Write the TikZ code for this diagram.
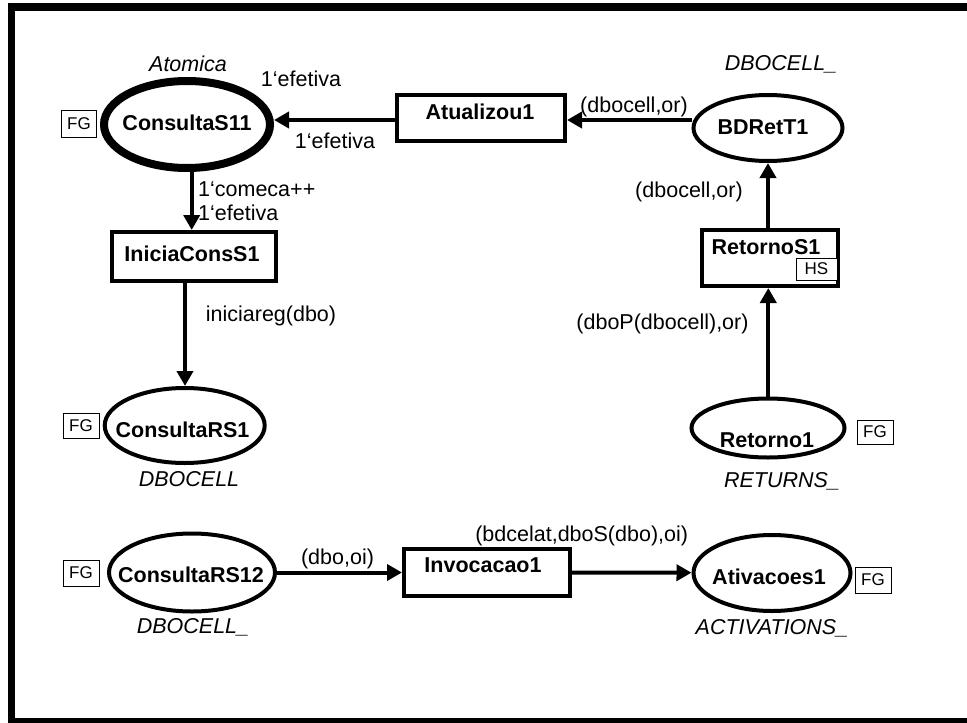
\documentclass[tikz,border=0pt]{standalone}
\usepackage{fontspec}
\setmainfont{Liberation Sans}
\usetikzlibrary{arrows.meta,shapes.geometric}

\tikzset{
  place/.style={draw, ellipse, line width=4pt, inner sep=0pt},
  trans/.style={draw, rectangle, line width=4pt, inner sep=0pt},
  nm/.style={font=\fontsize{21.5}{24}\selectfont\bfseries, inner sep=0pt},
  inscr/.style={font=\fontsize{21.5}{24}\selectfont, inner sep=0pt, anchor=base},
  ctype/.style={font=\fontsize{21.5}{24}\selectfont\itshape, inner sep=0pt, anchor=base},
  tag/.style={draw, fill=white, line width=0.9pt, font=\fontsize{17}{18}\selectfont,
              inner sep=0pt, minimum width=36pt, minimum height=26pt},
  arc/.style={line width=4pt, -{Triangle[length=15pt,width=16pt]}},
}

\begin{document}
\begin{tikzpicture}[x=1pt,y=-1pt]
\useasboundingbox (0,0) rectangle (967,723);

% page frame (open on the right)
\draw[line width=7.5pt, line join=miter] (990,7) -- (11.5,7) -- (11.5,721.5) -- (990,721.5);

% places
\node[place, line width=8pt, minimum width=166pt, minimum height=87pt] (cs11) at (187,124.5) {};
\node[place, minimum width=160pt, minimum height=75pt] (crs1) at (184.7,425.5) {};
\node[place, minimum width=149pt, minimum height=66pt] (bdr) at (768,128) {};
\node[place, minimum width=153pt, minimum height=59pt] (ret1) at (768,428) {};
\node[place, minimum width=166pt, minimum height=78pt] (crs12) at (192,572.5) {};
\node[place, minimum width=157pt, minimum height=76pt] (atv) at (772,573) {};

% transitions
\node[trans, minimum width=168pt, minimum height=46pt] (atu) at (481,118) {};
\node[trans, minimum width=164pt, minimum height=49pt] (ini) at (194,256.5) {};
\node[trans, minimum width=136pt, minimum height=56pt] (rets) at (770,258) {};
\node[trans, minimum width=166pt, minimum height=47pt] (inv) at (487,572.5) {};

% names
\node[nm] (n-cs11) at (187,122.5) {ConsultaS11};
\node[nm] (n-crs1) at (182.5,430) {ConsultaRS1};
\node[nm] (n-bdr) at (763,127) {BDRetT1};
\node[nm] (n-ret1) at (767,440) {Retorno1};
\node[nm] (n-crs12) at (191,575) {ConsultaRS12};
\node[nm] (n-atv) at (769,577) {Ativacoes1};
\node[nm] (n-atu) at (480,112) {Atualizou1};
\node[nm] (n-ini) at (192,254) {IniciaConsS1};
\node[nm] (n-rets) at (766,247.5) {RetornoS1};
\node[nm] (n-inv) at (483,565.5) {Invocacao1};

% fusion / hierarchy tags
\node[tag, minimum width=35pt, minimum height=27pt] (fg-cs11) at (79,123.5) {FG};
\node[tag, minimum height=25pt] (fg-crs1) at (81,425.5) {FG};
\node[tag, minimum height=24pt] (fg-ret1) at (875,432) {FG};
\node[tag] (fg-crs12) at (81,573) {FG};
\node[tag] (fg-atv) at (873,580) {FG};
\node[tag, minimum width=41pt, minimum height=22pt] (hs-rets) at (816.5,269) {HS};

% colour sets and initial marking
\node[ctype] (c-cs11) at (188,71) {Atomica};
\node[ctype] (c-bdr) at (781,70.5) {DBOCELL\_};
\node[ctype] (c-crs1) at (189,486.5) {DBOCELL};
\node[ctype] (c-ret1) at (782,487) {RETURNS\_};
\node[ctype] (c-crs12) at (193,633.5) {DBOCELL\_};
\node[ctype] (c-atv) at (772,634) {ACTIVATIONS\_};

% arcs
\draw[arc] ([yshift=-2pt]atu.west) -- ([yshift=4.5pt]cs11.east);
\draw[arc] ([yshift=8pt]bdr.west) -- ([yshift=-2pt]atu.east);
\draw[arc] ([xshift=-2pt]rets.north) -- (bdr.south);
\draw[arc] ([xshift=0.3pt]ret1.north) -- ([xshift=-1.7pt]rets.south);
\draw[arc] ([xshift=4.7pt]cs11.south) -- ([xshift=-2.3pt]ini.north);
\draw[arc] ([xshift=-9pt]ini.south) -- ([xshift=0.3pt]crs1.north);
\draw[arc] (crs12.east) -- (inv.west);
\draw[arc] (inv.east) -- ([yshift=0.3pt]atv.west);

% arc inscriptions
\node[inscr] (i-up) at (301,86.5) {1‘efetiva};
\node[inscr] (i-atu) at (335,148) {1‘efetiva};
\node[inscr] (i-bdr) at (634,112) {(dbocell,or)};
\node[inscr] (i-rets) at (689,197) {(dbocell,or)};
\node[inscr, anchor=base west] (i-ini1) at (198,196.7) {1‘comeca++};
\node[inscr, anchor=base west] (i-ini2) at (198,220) {1‘efetiva};
\node[inscr] (i-crs1) at (271,321) {iniciareg(dbo)};
\node[inscr] (i-ret1) at (662.5,329) {(dboP(dbocell),or)};
\node[inscr] (i-crs12) at (337.5,564) {(dbo,oi)};
\node[inscr] (i-atv) at (581.7,541.5) {(bdcelat,dboS(dbo),oi)};
\end{tikzpicture}
\end{document}
